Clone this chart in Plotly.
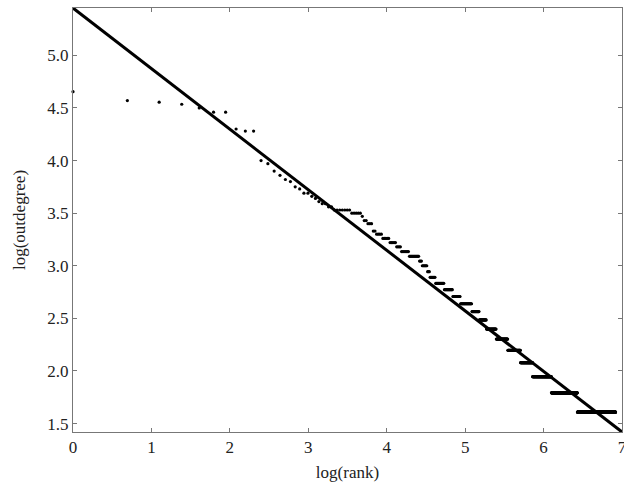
import numpy as np
import plotly.graph_objects as go

# Runs of equal log(outdegree): first rank, last rank, log(outdegree)
rank_first = [1, 2, 3, 4, 5, 6, 8, 9, 11, 12, 13, 14, 15, 16, 17, 18, 19, 21, 22, 23,
              24, 26, 28, 35, 40, 41, 43, 46, 48, 52, 57, 62, 66, 73, 83, 86, 92, 95,
              102, 114, 127, 140, 162, 178, 195, 221, 256, 301, 351, 446, 621]
rank_last = [1, 2, 3, 4, 5, 7, 8, 10, 11, 12, 13, 14, 15, 16, 17, 18, 20, 21, 22, 23,
             25, 27, 34, 39, 40, 42, 45, 47, 51, 56, 61, 65, 72, 82, 85, 91, 94, 101,
             113, 126, 139, 161, 177, 194, 220, 255, 300, 350, 445, 620, 1010]
log_outdegree = [4.655, 4.57, 4.555, 4.535, 4.50, 4.46, 4.30, 4.28, 4.00, 3.97, 3.90,
                 3.86, 3.82, 3.80, 3.75, 3.73, 3.69, 3.66, 3.64, 3.61, 3.59, 3.56, 3.53,
                 3.50, 3.47, 3.43, 3.40, 3.33, 3.30, 3.26, 3.22, 3.18, 3.135, 3.09,
                 3.045, 3.00, 2.944, 2.89, 2.833, 2.773, 2.708, 2.639, 2.565, 2.485,
                 2.398, 2.303, 2.197, 2.079, 1.946, 1.792, 1.609]

# Fitted power-law line (log-log)
fit_log_rank = [0, 7]
fit_log_outdegree = [5.45, 1.42]

x_ticks = [0, 1, 2, 3, 4, 5, 6, 7]
y_ticks = [1.5, 2.0, 2.5, 3.0, 3.5, 4.0, 4.5, 5.0]

ranks, vals = [], []
for a, b, v in zip(rank_first, rank_last, log_outdegree):
    r = np.arange(a, b + 1)
    ranks.append(r)
    vals.append(np.full(len(r), v))
ranks = np.concatenate(ranks)
vals = np.concatenate(vals)

fig = go.Figure()
fig.add_trace(go.Scatter(
    x=np.log(ranks), y=vals, mode="markers",
    marker=dict(color="black", size=3.2, line=dict(width=0)),
    cliponaxis=False, showlegend=False))
fig.add_trace(go.Scatter(
    x=fit_log_rank, y=fit_log_outdegree, mode="lines",
    line=dict(color="black", width=3), showlegend=False))

font = dict(family="Liberation Serif, Times New Roman, serif", size=17, color="#222")
axis_common = dict(
    showgrid=False, zeroline=False, showline=True, linecolor="#777", linewidth=1,
    ticks="inside", ticklen=4, tickcolor="#777", tickwidth=1, mirror="ticks",
    tickfont=font, automargin=False, ticklabeloverflow="allow")

fig.update_layout(
    width=624, height=490,
    margin=dict(l=73, r=2, t=8, b=58),
    paper_bgcolor="white", plot_bgcolor="white",
    font=font,
    xaxis=dict(range=[0, 7], tickvals=x_ticks, ticktext=[str(t) for t in x_ticks],
               title=dict(text="log(rank)", font=font, standoff=9), **axis_common),
    yaxis=dict(range=[1.42, 5.45], tickvals=y_ticks,
               ticktext=[f"{t:.1f}" for t in y_ticks],
               title=dict(text="log(outdegree)", font=font, standoff=17), **axis_common),
)

fig.write_html(
    "out.html",
    config={"displayModeBar": False},
    post_script="document.body.style.margin='0';document.body.style.overflow='hidden';")
